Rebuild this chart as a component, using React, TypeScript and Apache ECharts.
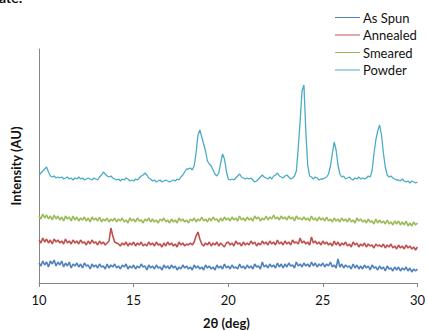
import React, { useEffect, useRef } from "react";
import * as echarts from "echarts";

// 2θ sampling: 10.0 .. 30.0 deg, step 0.1 deg
const ANGLE_START = 10;
const ANGLE_STEP = 0.1;

const seriesNames = ["As Spun", "Annealed", "Smeared", "Powder"];
const seriesColors = ["#4F81BD", "#C0504D", "#9BBB59", "#4BACC6"];

const xTicks = [10, 15, 20, 25, 30];

// Intensities (arbitrary units, offset traces), one value per 0.1 deg from 10.0 to 30.0
const asSpun = [
  20, 17, 22, 18, 21, 16, 22, 19, 23, 17,
  21, 18, 22, 16, 20, 17, 21, 15, 19, 17,
  20, 16, 19, 15, 20, 17, 18, 14, 19, 16,
  18, 15, 19, 16, 17, 14, 19, 15, 18, 16,
  19, 15, 17, 14, 18, 16, 19, 14, 17, 15,
  18, 14, 17, 15, 19, 16, 17, 13, 18, 15,
  17, 14, 18, 15, 16, 13, 18, 15, 17, 14,
  18, 15, 17, 13, 16, 14, 18, 15, 17, 14,
  16, 13, 18, 15, 17, 14, 16, 13, 18, 15,
  17, 14, 16, 13, 18, 15, 17, 14, 19, 15,
  17, 14, 18, 15, 16, 14, 19, 15, 17, 14,
  18, 15, 17, 14, 19, 16, 17, 14, 21, 16,
  18, 15, 19, 16, 18, 15, 20, 16, 19, 15,
  19, 16, 20, 17, 18, 15, 21, 17, 19, 16,
  20, 17, 19, 16, 21, 17, 20, 16, 19, 17,
  20, 16, 19, 17, 21, 16, 18, 15, 24, 16,
  19, 15, 18, 16, 17, 14, 19, 15, 18, 14,
  17, 14, 18, 15, 17, 13, 18, 15, 16, 13,
  17, 14, 16, 12, 17, 14, 15, 12, 16, 13,
  16, 12, 15, 13, 16, 12, 15, 11, 14, 12,
  14,
];

const annealed = [
  43, 40, 45, 41, 44, 40, 43, 39, 44, 41,
  43, 40, 42, 39, 44, 40, 42, 39, 43, 40,
  42, 39, 43, 40, 41, 38, 42, 39, 43, 40,
  41, 38, 42, 39, 41, 38, 40, 42, 55, 47,
  41, 40, 39, 37, 40, 38, 41, 37, 40, 38,
  41, 37, 40, 38, 41, 37, 39, 37, 41, 38,
  40, 37, 41, 38, 39, 36, 40, 37, 41, 38,
  40, 37, 39, 36, 41, 38, 40, 37, 39, 38,
  40, 38, 41, 47, 51, 44, 39, 37, 40, 38,
  41, 37, 40, 38, 41, 37, 40, 38, 36, 40,
  41, 38, 40, 37, 42, 39, 40, 37, 41, 38,
  40, 38, 42, 39, 41, 37, 40, 38, 42, 39,
  41, 38, 42, 39, 41, 38, 43, 39, 41, 38,
  42, 39, 41, 38, 43, 40, 41, 39, 45, 40,
  42, 39, 41, 38, 46, 40, 42, 39, 41, 38,
  42, 39, 41, 38, 40, 37, 42, 38, 41, 37,
  40, 38, 41, 37, 39, 36, 41, 38, 40, 36,
  39, 37, 40, 36, 39, 37, 38, 35, 39, 37,
  38, 36, 39, 35, 38, 36, 39, 35, 37, 34,
  38, 35, 37, 34, 38, 35, 37, 34, 36, 33,
  36,
];

const smeared = [
  67, 64, 69, 65, 68, 64, 67, 63, 68, 64,
  67, 63, 66, 62, 67, 64, 66, 62, 67, 63,
  66, 62, 65, 63, 66, 62, 65, 61, 66, 63,
  65, 62, 66, 61, 64, 62, 65, 61, 64, 62,
  65, 61, 64, 62, 65, 61, 63, 60, 65, 62,
  64, 61, 65, 62, 63, 60, 64, 62, 65, 61,
  64, 61, 63, 60, 64, 62, 65, 61, 63, 60,
  64, 61, 63, 60, 65, 62, 64, 61, 63, 60,
  64, 62, 65, 61, 64, 62, 66, 62, 64, 61,
  65, 62, 66, 63, 64, 61, 65, 62, 66, 63,
  65, 62, 66, 63, 65, 62, 67, 63, 65, 62,
  66, 63, 65, 62, 67, 64, 66, 62, 65, 63,
  67, 63, 66, 64, 68, 64, 66, 63, 67, 64,
  66, 63, 67, 64, 66, 62, 67, 64, 65, 63,
  66, 63, 65, 62, 67, 63, 65, 62, 66, 63,
  65, 62, 66, 62, 64, 61, 65, 62, 64, 61,
  65, 62, 64, 61, 65, 61, 63, 60, 65, 62,
  64, 61, 63, 60, 64, 61, 62, 59, 64, 60,
  63, 60, 62, 59, 63, 59, 61, 58, 62, 59,
  62, 58, 61, 58, 62, 57, 60, 57, 61, 58,
  60,
];

const powder = [
  108, 110, 112, 114, 116, 111, 107, 106, 107, 105,
  106, 105, 106, 104, 105, 106, 104, 105, 103, 105,
  104, 106, 104, 105, 103, 104, 105, 104, 103, 105,
  104, 103, 106, 108, 111, 109, 107, 106, 107, 105,
  104, 103, 104, 102, 104, 103, 105, 104, 102, 103,
  102, 104, 103, 105, 107, 108, 110, 108, 105, 104,
  102, 103, 101, 102, 103, 101, 102, 103, 102, 101,
  102, 103, 102, 104, 103, 106, 108, 111, 114, 114,
  115, 113, 117, 130, 148, 153, 146, 139, 132, 122,
  119, 117, 113, 109, 107, 110, 120, 129, 124, 112,
  104, 103, 104, 103, 105, 107, 109, 106, 105, 104,
  105, 104, 105, 103, 101, 102, 104, 106, 108, 106,
  105, 104, 106, 104, 107, 108, 110, 107, 106, 105,
  107, 108, 106, 104, 105, 107, 112, 135, 162, 192,
  198, 152, 118, 107, 106, 104, 106, 105, 103, 104,
  104, 105, 106, 109, 117, 129, 141, 133, 118, 109,
  106, 107, 104, 105, 106, 104, 103, 105, 104, 106,
  104, 105, 104, 105, 107, 106, 112, 129, 143, 152,
  158, 148, 130, 116, 108, 106, 107, 105, 104, 103,
  103, 102, 104, 102, 101, 102, 100, 102, 101, 100,
  101,
];

const allValues = [asSpun, annealed, smeared, powder];
const lineWidths = [1.6, 1.6, 1.6, 1.3];

const FONT = "Lato, 'Open Sans', sans-serif";

export default function App() {
  const ref = useRef<HTMLDivElement>(null);

  useEffect(() => {
    if (!ref.current) return;
    const chart = echarts.init(ref.current, undefined, { renderer: "svg" });

    const series = allValues.map((vals, si) => ({
      name: seriesNames[si],
      type: "line",
      data: vals.map((v, i) => [
        Math.round((ANGLE_START + i * ANGLE_STEP) * 10) / 10,
        v,
      ]),
      symbol: "none",
      showSymbol: false,
      lineStyle: { color: seriesColors[si], width: lineWidths[si] },
      itemStyle: { color: seriesColors[si] },
      emphasis: { disabled: true },
    }));

    chart.setOption({
      animation: false,
      color: seriesColors,
      grid: { left: 39, right: 9, top: 49, bottom: 48, containLabel: false },
      legend: {
        orient: "vertical",
        left: 330,
        top: 6,
        itemWidth: 25,
        itemHeight: 14,
        itemGap: 4.5,
        icon: "path://M0,7L25,7L25,8L0,8Z",
        textStyle: { fontFamily: FONT, fontSize: 13, color: "#111", padding: [0, 0, 0, -2] },
        data: seriesNames,
      },
      xAxis: {
        type: "value",
        min: 10,
        max: 30,
        interval: 5,
        axisLine: { show: true, lineStyle: { color: "#868686", width: 1 } },
        axisTick: { show: true, length: 4, lineStyle: { color: "#868686" } },
        splitLine: { show: false },
        axisLabel: {
          fontFamily: FONT,
          fontSize: 13,
          color: "#111",
          margin: 10,
          formatter: (v: number) => (xTicks.includes(v) ? String(v) : ""),
        },
      },
      yAxis: {
        type: "value",
        min: 0,
        max: 234,
        axisLine: { show: true, lineStyle: { color: "#868686", width: 1 } },
        axisTick: { show: false },
        axisLabel: { show: false },
        splitLine: { show: false },
      },
      graphic: [
        {
          type: "text",
          left: 203,
          top: 316,
          style: {
            text: "2θ (deg)",
            font: `bold 13px ${FONT}`,
            fill: "#111",
          },
        },
        {
          type: "text",
          x: 16,
          y: 166,
          rotation: Math.PI / 2,
          style: {
            text: "Intensity (AU)",
            font: `bold 13px ${FONT}`,
            fill: "#111",
            align: "center",
            verticalAlign: "middle",
          },
        },
        {
          type: "text",
          x: -1,
          y: -10,
          style: {
            text: "ate:",
            font: `bold 14px ${FONT}`,
            fill: "#111",
          },
        },
      ],
      series,
    });

    return () => chart.dispose();
  }, []);

  return <div ref={ref} style={{ width: 428, height: 331, position: "absolute", left: 0, top: 0 }} />;
}
